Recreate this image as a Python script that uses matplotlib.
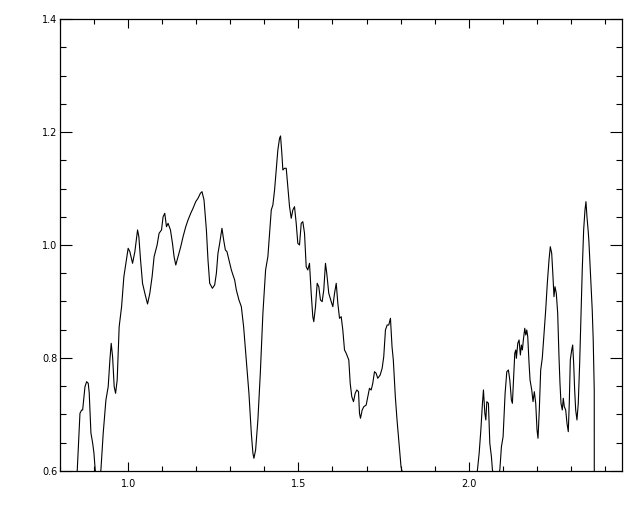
import matplotlib
matplotlib.use("Agg")
import matplotlib.pyplot as plt
from matplotlib.ticker import MultipleLocator, FormatStrFormatter

# --- spectrum trace ---
wave = [
    0.845, 0.8507, 0.8586, 0.8636, 0.8665, 0.8733, 0.8782, 0.8829, 0.8858, 0.8908,
    0.8958, 0.8996, 0.9034, 0.9113, 0.9201, 0.9269, 0.9348, 0.9415, 0.9465, 0.9503,
    0.9544, 0.9591, 0.9632, 0.9679, 0.9737, 0.9808, 0.9875, 0.9934, 1.0001, 1.0051,
    1.0130, 1.0198, 1.0277, 1.0315, 1.0365, 1.0423, 1.0491, 1.0570, 1.0637, 1.0704,
    1.0763, 1.0851, 1.0909, 1.0980, 1.1027, 1.1076, 1.1126, 1.1173, 1.1243, 1.1302,
    1.1349, 1.1399, 1.1466, 1.1545, 1.1613, 1.1692, 1.1759, 1.1838, 1.1906, 1.1985,
    1.2052, 1.2122, 1.2169, 1.2228, 1.2298, 1.2345, 1.2395, 1.2474, 1.2541, 1.2591,
    1.2638, 1.2688, 1.2755, 1.2805, 1.2855, 1.2902, 1.2960, 1.3031, 1.3078, 1.3128,
    1.3177, 1.3254, 1.3324, 1.3391, 1.3470, 1.3547, 1.3617, 1.3664, 1.3693, 1.3743,
    1.3810, 1.3881, 1.3957, 1.4036, 1.4103, 1.4153, 1.4203, 1.4250, 1.4300, 1.4349,
    1.4396, 1.4446, 1.4475, 1.4513, 1.4543, 1.4592, 1.4642, 1.4689, 1.4739, 1.4789,
    1.4836, 1.4885, 1.4935, 1.4982, 1.5032, 1.5082, 1.5129, 1.5179, 1.5228, 1.5275,
    1.5325, 1.5375, 1.5422, 1.5451, 1.5501, 1.5551, 1.5598, 1.5647, 1.5697, 1.5744,
    1.5794, 1.5832, 1.5891, 1.5963, 1.6010, 1.6060, 1.6110, 1.6157, 1.6207, 1.6256,
    1.6303, 1.6353, 1.6403, 1.6479, 1.6520, 1.6567, 1.6617, 1.6667, 1.6714, 1.6764,
    1.6793, 1.6822, 1.6872, 1.6919, 1.6989, 1.7036, 1.7086, 1.7136, 1.7183, 1.7233,
    1.7282, 1.7329, 1.7400, 1.7458, 1.7505, 1.7555, 1.7605, 1.7652, 1.7702, 1.7748,
    1.7786, 1.7845, 1.7895, 1.7962, 1.8012, 1.8041, 1.8080, 2.0190, 2.0256, 2.0306,
    2.0356, 2.0403, 2.0432, 2.0473, 2.0502, 2.0531, 2.0578, 2.0619, 2.0666, 2.0696,
    2.0800, 2.0913, 2.0960, 2.1009, 2.1068, 2.1118, 2.1165, 2.1206, 2.1253, 2.1282,
    2.1311, 2.1352, 2.1382, 2.1399, 2.1440, 2.1478, 2.1516, 2.1546, 2.1575, 2.1604,
    2.1645, 2.1675, 2.1704, 2.1733, 2.1771, 2.1800, 2.1850, 2.1888, 2.1926, 2.1967,
    2.2005, 2.2034, 2.2072, 2.2113, 2.2160, 2.2210, 2.2260, 2.2307, 2.2357, 2.2395,
    2.2436, 2.2474, 2.2503, 2.2533, 2.2571, 2.2612, 2.2650, 2.2679, 2.2709, 2.2747,
    2.2776, 2.2806, 2.2847, 2.2885, 2.2923, 2.2952, 2.2982, 2.3023, 2.3052, 2.3081,
    2.3110, 2.3140, 2.3178, 2.3216, 2.3257, 2.3295, 2.3333, 2.3374, 2.3413, 2.3442,
    2.3471, 2.3509, 2.3529, 2.3579, 2.3626, 2.3655, 2.3685, 2.3688,
]
flux = [
    0.570, 0.6018, 0.7021, 0.7080, 0.7080, 0.7492, 0.7581, 0.7552, 0.7381, 0.6673,
    0.6496, 0.6319, 0.6018, 0.575, 0.6018, 0.6673, 0.7257, 0.7492, 0.7965, 0.8260,
    0.8023, 0.7492, 0.7375, 0.7611, 0.8554, 0.8908, 0.9439, 0.9676, 0.9942, 0.9882,
    0.9676, 0.9882, 1.0266, 1.0147, 0.9735, 0.9322, 0.9145, 0.8956, 0.9145, 0.9439,
    0.9793, 1.0000, 1.0207, 1.0266, 1.0501, 1.0561, 1.0324, 1.0384, 1.0266, 1.0030,
    0.9793, 0.9646, 0.9793, 0.9970, 1.0147, 1.0324, 1.0443, 1.0561, 1.0650, 1.0767,
    1.0827, 1.0915, 1.0944, 1.0797, 1.0266, 0.9735, 0.9322, 0.9234, 0.9292, 0.9499,
    0.9853, 1.0030, 1.0296, 1.0089, 0.9912, 0.9882, 0.9735, 0.9558, 0.9469, 0.9381,
    0.9204, 0.9027, 0.8908, 0.8554, 0.7965, 0.7375, 0.6667, 0.6313, 0.6225, 0.6372,
    0.6903, 0.7729, 0.8791, 0.9558, 0.9793, 1.0207, 1.0620, 1.0708, 1.0974, 1.1328,
    1.1682, 1.1889, 1.1930, 1.1623, 1.1328, 1.1358, 1.1358, 1.1032, 1.0678, 1.0473,
    1.0620, 1.0678, 1.0384, 1.0030, 1.0000, 1.0384, 1.0413, 1.0207, 0.9616, 0.9558,
    0.9676, 0.9145, 0.8731, 0.8643, 0.8908, 0.9322, 0.9262, 0.9027, 0.8997, 0.9204,
    0.9676, 0.9499, 0.9145, 0.8997, 0.8908, 0.9145, 0.9322, 0.8968, 0.8703, 0.8731,
    0.8496, 0.8142, 0.8083, 0.7965, 0.7552, 0.7315, 0.7227, 0.7375, 0.7434, 0.7404,
    0.7021, 0.6933, 0.7080, 0.7138, 0.7168, 0.7315, 0.7464, 0.7434, 0.7552, 0.7758,
    0.7729, 0.7641, 0.7699, 0.7818, 0.8023, 0.8496, 0.8584, 0.8584, 0.8703, 0.8200,
    0.7965, 0.7315, 0.6903, 0.6430, 0.6076, 0.6000, 0.550, 0.550, 0.6018, 0.6313,
    0.6726, 0.7198, 0.7434, 0.7021, 0.6903, 0.7227, 0.7198, 0.6490, 0.6253, 0.6018,
    0.580, 0.6018, 0.6430, 0.6607, 0.7375, 0.7758, 0.7788, 0.7611, 0.7257, 0.7198,
    0.7552, 0.8083, 0.8142, 0.7995, 0.8260, 0.8319, 0.8053, 0.8230, 0.8142, 0.8319,
    0.8526, 0.8407, 0.8496, 0.8377, 0.7906, 0.7611, 0.7434, 0.7227, 0.7404, 0.7198,
    0.6726, 0.6579, 0.7080, 0.7788, 0.8000, 0.8437, 0.8850, 0.9322, 0.9735, 0.9970,
    0.9853, 0.9439, 0.9085, 0.9262, 0.9145, 0.8791, 0.8023, 0.7552, 0.7198, 0.7080,
    0.7287, 0.7138, 0.7080, 0.6844, 0.6696, 0.7198, 0.7965, 0.8142, 0.8230, 0.7906,
    0.7434, 0.7080, 0.6903, 0.7198, 0.7906, 0.8731, 0.9558, 1.0266, 1.0620, 1.0767,
    1.0501, 1.0236, 1.0059, 0.9439, 0.8850, 0.8319, 0.7434, 0.300,
]

X_RANGE = (0.8, 2.45)
Y_RANGE = (0.6, 1.4)

fig = plt.figure(figsize=(6.4, 5.12), dpi=100)
ax = fig.add_axes([60 / 640, 41 / 512, 562 / 640, 452 / 512])

ax.plot(wave, flux, color="black", lw=0.8)

ax.set_xlim(*X_RANGE)
ax.set_ylim(*Y_RANGE)

# IDL-style axes: inward ticks on every side
ax.xaxis.set_major_locator(MultipleLocator(0.5))
ax.xaxis.set_minor_locator(MultipleLocator(0.1))
ax.yaxis.set_major_locator(MultipleLocator(0.2))
ax.yaxis.set_minor_locator(MultipleLocator(0.05))
ax.xaxis.set_major_formatter(FormatStrFormatter("%.1f"))
ax.yaxis.set_major_formatter(FormatStrFormatter("%.1f"))

ax.tick_params(axis="both", which="both", direction="in",
               top=True, right=True, width=0.8, labelsize=7, colors="black")
ax.tick_params(axis="x", which="major", length=6.5, pad=6)
ax.tick_params(axis="x", which="minor", length=3.3)
ax.tick_params(axis="y", which="major", length=8.3, pad=2)
ax.tick_params(axis="y", which="minor", length=4.5)

for sp in ax.spines.values():
    sp.set_linewidth(0.9)

fig.savefig("out.png", dpi=100)
